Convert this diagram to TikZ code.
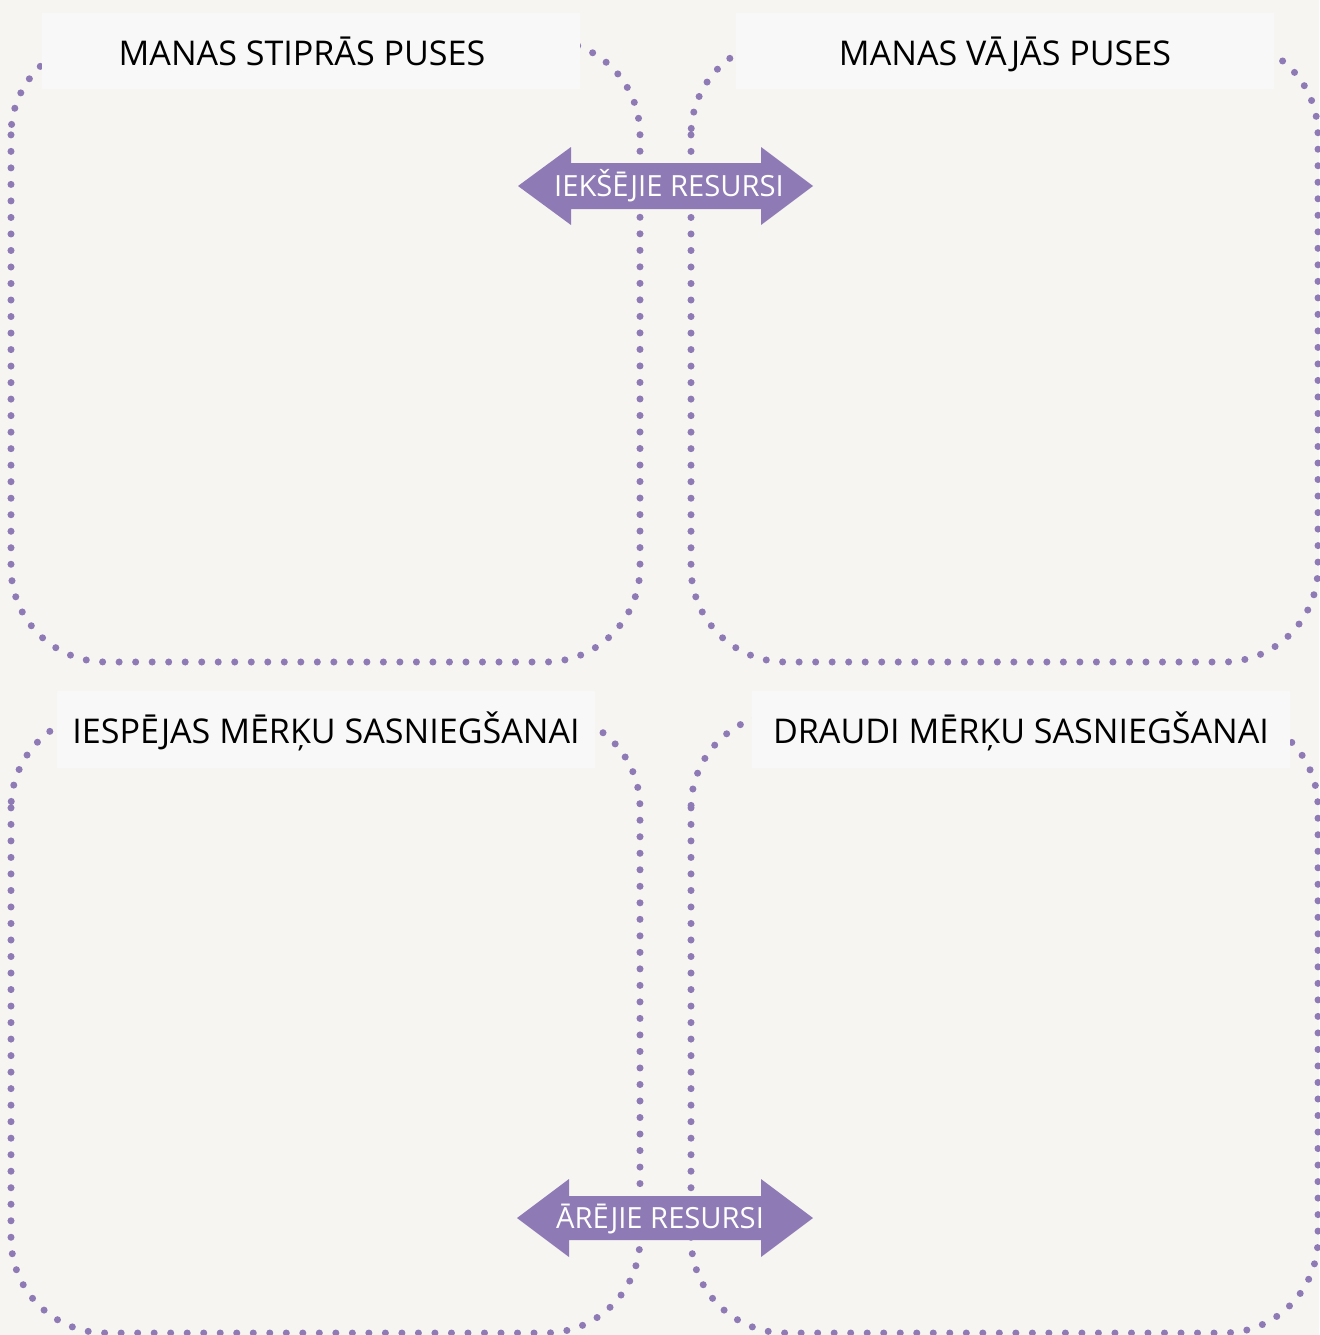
\documentclass[tikz,border=0pt]{standalone}
\usepackage{fontspec}
\setmainfont{Open Sans}
\definecolor{paper}{RGB}{247,245,242}
\definecolor{titlegray}{RGB}{248,248,248}
\definecolor{swotpurple}{RGB}{142,122,181}
\tikzset{
    dotborder/.style={swotpurple, line width=4pt, line cap=round,
        dash pattern=on 0pt off 9.4pt, rounded corners=54pt},
    titlebox/.style={fill=titlegray, minimum width=10.78cm, minimum height=1.54cm,
        inner sep=0pt, text height=18.6pt, text depth=2.5pt,
        font=\fontsize{19.4}{21}\selectfont, text=black},
    arrowfill/.style={fill=swotpurple},
    arrowtext/.style={text=white, inner sep=0pt, text height=12.4pt, text depth=0.6pt,
        font=\fontsize{16.6}{18}\selectfont}
}

\begin{document}
\begin{tikzpicture}[x=0.02cm, y=-0.02cm]
    \fill [paper] (0, 0) rectangle (1319, 1335);
    \useasboundingbox (0, 0) rectangle (1319, 1335);
    % the four quadrants
    \draw [dotborder] (11, 40) rectangle (640, 662);
    \draw [dotborder] (691, 40) rectangle (1318, 662);
    \draw [dotborder] (11, 713) rectangle (640, 1333);
    \draw [dotborder] (691, 713) rectangle (1318, 1333);
    % titles
    \node [titlebox] (strengths) at (311, 51) {MANAS STIPRĀS PUSES\hspace*{0.36cm}};
    \node [titlebox] (weaknesses) at (1005, 51) {MANAS VĀJĀS PUSES};
    \node [titlebox] (chances) at (326, 729) {IESPĒJAS MĒRĶU SASNIEGŠANAI};
    \node [titlebox] (threats) at (1021, 729) {DRAUDI MĒRĶU SASNIEGŠANAI};
    % resource arrows
    \begin{scope}[shift={(665, 186)}]
        \fill [arrowfill] (-147, 0) -- (-94, -39) -- (-94, -23) -- (96, -23) -- (96, -39)
            -- (148, 0) -- (96, 39) -- (96, 23) -- (-94, 23) -- (-94, 39) -- cycle;
    \end{scope}
    \node [arrowtext] (inner) at (669, 186) {IEKŠĒJIE RESURSI};
    \begin{scope}[shift={(665, 1218)}]
        \fill [arrowfill] (-148, 0) -- (-96, -39) -- (-96, -22) -- (96, -22) -- (96, -39)
            -- (148, 0) -- (96, 39) -- (96, 22) -- (-96, 22) -- (-96, 39) -- cycle;
    \end{scope}
    \node [arrowtext] (outer) at (660, 1218) {ĀRĒJIE RESURSI};
\end{tikzpicture}
\end{document}
